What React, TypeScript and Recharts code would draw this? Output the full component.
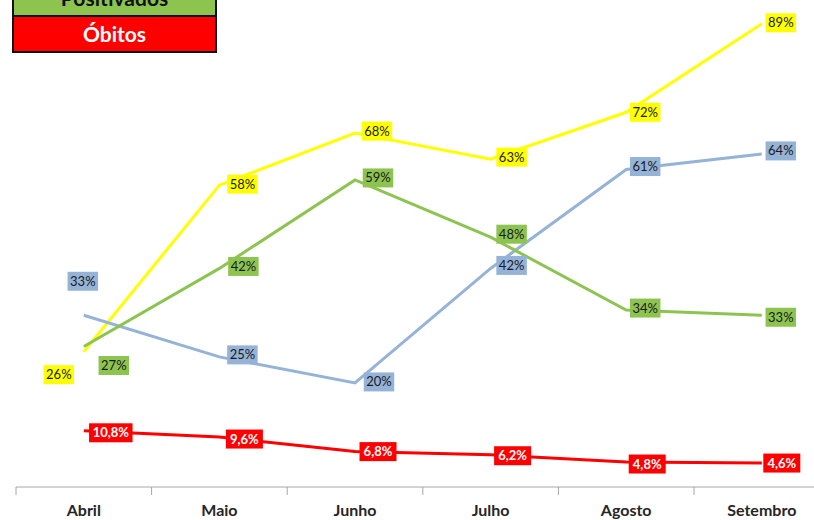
import React from 'react';
import { LineChart, Line, XAxis, YAxis, LabelList, Legend } from 'recharts';

// ---- data ----
const months = ['Abril', 'Maio', 'Junho', 'Julho', 'Agosto', 'Setembro'];
const amareloValues = [26, 58, 68, 63, 72, 89];
const azulValues = [33, 25, 20, 42, 61, 64];
const positivadosValues = [27, 42, 59, 48, 34, 33];
const obitosValues = [10.8, 9.6, 6.8, 6.2, 4.8, 4.6];
const legendNames = ['Positivados', 'Óbitos'];

const data = months.map((m, i) => ({
  month: m,
  amarelo: amareloValues[i],
  azul: azulValues[i],
  positivados: positivadosValues[i],
  obitos: obitosValues[i],
}));

// ---- layout / style ----
const CHART_W = 850;
const CHART_H = 520;
const PLOT_LEFT = 16;
const BAND = 135.6;
const PLOT_W = BAND * months.length;
const FONT = 'Lato, Carlito, Calibri, sans-serif';

const COLORS = {
  amarelo: '#FFFF00',
  azul: '#95B3D7',
  positivados: '#8DC450',
  obitos: '#FF0000',
};

const amareloOffsets = [[-25, 23], [23, -1], [22, -2], [21, -2], [19, 0], [19, -1]];
const azulOffsets = [[-1, -34], [23, -2], [24, -1], [21, -3], [19, -3], [19, -3]];
const positivadosOffsets = [[30, 19], [24, -2], [23, -2], [21, -3], [19, -2], [19, 2]];
const obitosOffsets = [[27, 2], [25, 2], [23, 0], [22, 1], [21, 2], [20, 0]];

const pct = (v: number) => `${v}%`;
const pctComma = (v: number) => `${String(v).replace('.', ',')}%`;

const makeLabel = (
  fill: string,
  textColor: string,
  offsets: number[][],
  fmt: (v: number) => string,
  bold: boolean
) => (props: any) => {
  const { x, y, value, index } = props;
  const off = offsets[index] || [21, 0];
  const cx = x + off[0];
  const cy = y + off[1];
  const text = fmt(value);
  const w = text.length * 6.5 + 11;
  const h = 19;
  return (
    <g>
      <rect x={cx - w / 2} y={cy - h / 2} width={w} height={h} fill={fill} />
      <text
        x={cx}
        y={cy + 4.5}
        textAnchor="middle"
        fontFamily={FONT}
        fontSize={13}
        fontWeight={bold ? 700 : 400}
        fill={textColor}
      >
        {text}
      </text>
    </g>
  );
};

const MonthTick = (props: any) => {
  const { x, y, payload } = props;
  return (
    <g>
      <line x1={x - BAND / 2} x2={x - BAND / 2} y1={y} y2={y + 8} stroke="#a6a6a6" strokeWidth={1} />
      <text
        x={x}
        y={y + 29}
        textAnchor="middle"
        fontFamily={FONT}
        fontSize={16}
        fontWeight={700}
        fill="#262626"
      >
        {payload.value}
      </text>
    </g>
  );
};

const legendColors: Record<string, { bg: string; fg: string }> = {
  Positivados: { bg: COLORS.positivados, fg: '#111' },
  'Óbitos': { bg: COLORS.obitos, fg: '#fff' },
};

const LegendBox = () => (
  <div
    style={{
      width: 201,
      border: '2px solid #111',
      background: '#fff',
    }}
  >
    {legendNames.map((name, i) => (
      <div
        key={name}
        style={{
          height: i === 0 ? 35 : 34,
          lineHeight: `${i === 0 ? 35 : 34}px`,
          background: legendColors[name].bg,
          color: legendColors[name].fg,
          borderBottom: i === 0 ? '2px solid #111' : 'none',
          textAlign: 'center',
          fontFamily: FONT,
          fontWeight: 700,
          fontSize: 21,
        }}
      >
        {name}
      </div>
    ))}
  </div>
);

export default function App() {
  return (
    <div
      style={{
        position: 'fixed',
        left: 0,
        top: 0,
        width: 814,
        height: 520,
        overflow: 'hidden',
        background: '#fff',
      }}
    >
      <LineChart
        width={CHART_W}
        height={CHART_H}
        data={data}
        margin={{ top: 3, left: PLOT_LEFT, right: CHART_W - PLOT_LEFT - PLOT_W, bottom: 0 }}
      >
        <XAxis
          dataKey="month"
          scale="band"
          height={33}
          axisLine={{ stroke: '#a6a6a6', strokeWidth: 1 }}
          tickLine={false}
          tickSize={0}
          tickMargin={0}
          interval={0}
          tick={<MonthTick />}
        />
        <YAxis hide domain={[0, 93]} type="number" />
        <Legend
          layout="horizontal"
          verticalAlign="middle"
          align="center"
          wrapperStyle={{ left: 12, top: -22, width: 205 }}
          content={<LegendBox />}
        />
        <Line
          dataKey="amarelo"
          stroke={COLORS.amarelo}
          strokeWidth={3}
          dot={false}
          isAnimationActive={false}
        >
          <LabelList dataKey="amarelo" content={makeLabel(COLORS.amarelo, '#1a1a1a', amareloOffsets, pct, false)} />
        </Line>
        <Line
          dataKey="azul"
          stroke={COLORS.azul}
          strokeWidth={3}
          dot={false}
          isAnimationActive={false}
        >
          <LabelList dataKey="azul" content={makeLabel(COLORS.azul, '#1a1a1a', azulOffsets, pct, false)} />
        </Line>
        <Line
          dataKey="positivados"
          name="Positivados"
          stroke={COLORS.positivados}
          strokeWidth={3}
          dot={false}
          isAnimationActive={false}
        >
          <LabelList
            dataKey="positivados"
            content={makeLabel(COLORS.positivados, '#1a1a1a', positivadosOffsets, pct, false)}
          />
        </Line>
        <Line
          dataKey="obitos"
          name="Óbitos"
          stroke={COLORS.obitos}
          strokeWidth={3}
          dot={false}
          isAnimationActive={false}
        >
          <LabelList dataKey="obitos" content={makeLabel(COLORS.obitos, '#ffffff', obitosOffsets, pctComma, true)} />
        </Line>
      </LineChart>
    </div>
  );
}
